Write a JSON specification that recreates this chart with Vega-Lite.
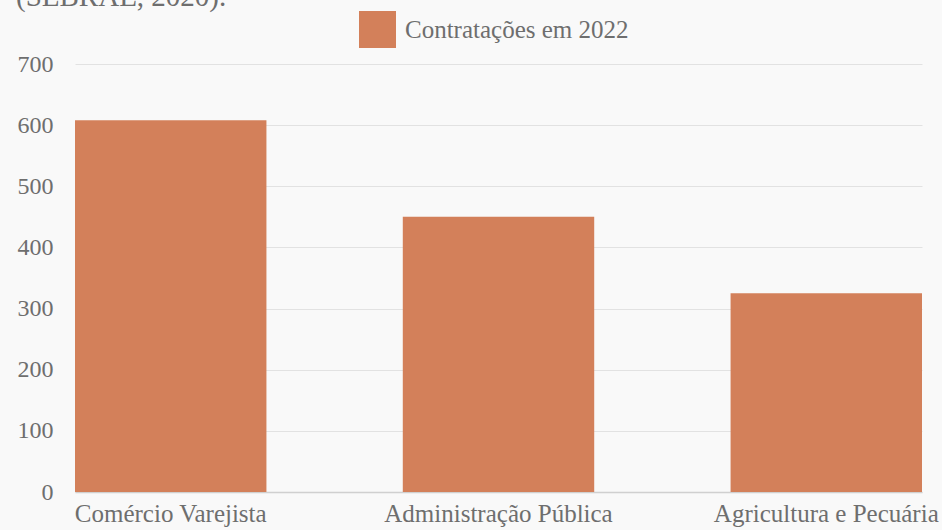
{
  "$schema": "https://vega.github.io/schema/vega-lite/v6.json",
  "width": 847,
  "height": 428,
  "autosize": {"type": "none"},
  "padding": {"left": 75, "top": 64, "right": 20, "bottom": 38},
  "background": "#f9f9f9",
  "title": {
    "text": "(SEBRAE, 2020).",
    "anchor": "start",
    "frame": "group",
    "orient": "top",
    "baseline": "alphabetic",
    "offset": 0,
    "dx": -59,
    "dy": 24,
    "font": "Liberation Serif",
    "fontSize": 29,
    "fontWeight": "normal",
    "color": "#6e6e6e"
  },
  "data": {
    "values": [
      {"setor": "Comércio Varejista", "valor": 608, "serie": "Contratações em 2022"},
      {"setor": "Administração Pública", "valor": 450, "serie": "Contratações em 2022"},
      {"setor": "Agricultura e Pecuária", "valor": 325, "serie": "Contratações em 2022"}
    ]
  },
  "mark": {"type": "bar", "color": "#d3805a"},
  "encoding": {
    "x": {
      "field": "setor",
      "type": "nominal",
      "sort": null,
      "scale": {"paddingInner": 0.416, "paddingOuter": 0},
      "axis": {
        "title": null,
        "labelAngle": 0,
        "ticks": false,
        "domainColor": "#d0d0d0",
        "domainWidth": 1.5,
        "labelFont": "Liberation Serif",
        "labelFontSize": 25,
        "labelColor": "#6e6e6e",
        "labelPadding": 9,
        "labelLimit": 0
      }
    },
    "y": {
      "field": "valor",
      "type": "quantitative",
      "scale": {"domain": [0, 700]},
      "axis": {
        "title": null,
        "values": [0, 100, 200, 300, 400, 500, 600, 700],
        "domain": false,
        "ticks": false,
        "gridColor": "#e2e2e2",
        "gridWidth": 1,
        "labelFont": "Liberation Serif",
        "labelFontSize": 24,
        "labelColor": "#6e6e6e",
        "labelPadding": 22
      }
    },
    "color": {
      "field": "serie",
      "type": "nominal",
      "scale": {"range": ["#d3805a"]},
      "legend": {
        "title": null,
        "orient": "none",
        "legendX": 284,
        "legendY": -53,
        "symbolType": "square",
        "symbolSize": 1369,
        "symbolStrokeWidth": 0,
        "labelFont": "Liberation Serif",
        "labelFontSize": 25,
        "labelColor": "#6e6e6e",
        "labelOffset": 9,
        "labelLimit": 0
      }
    }
  },
  "config": {"view": {"stroke": null}}
}
